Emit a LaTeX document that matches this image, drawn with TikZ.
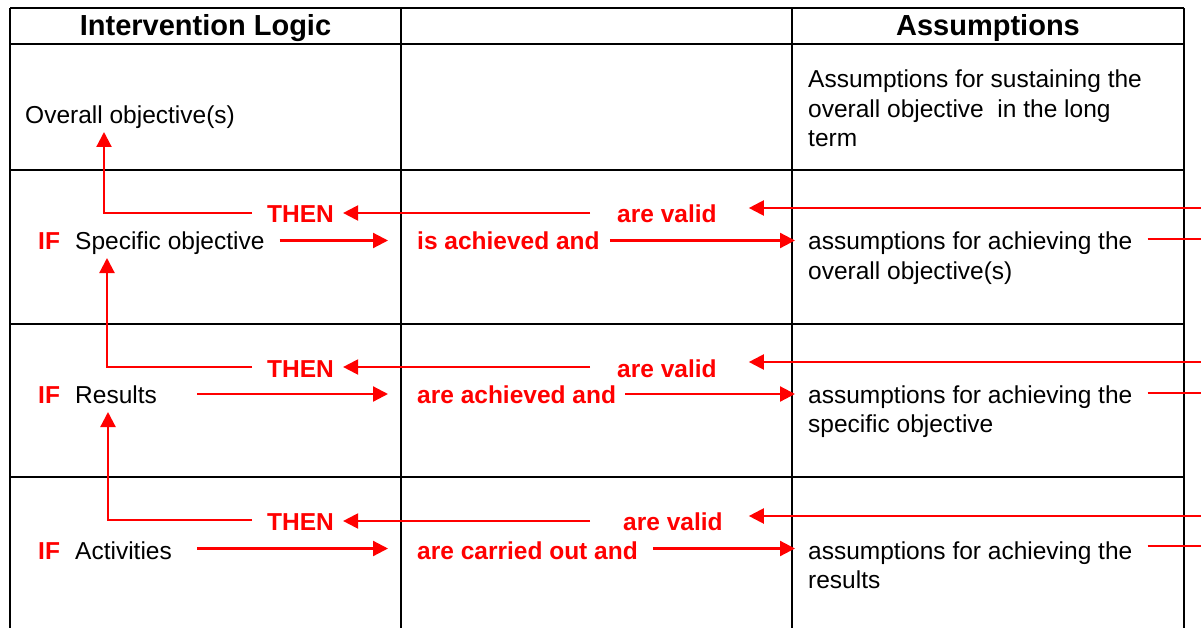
\documentclass[tikz,border=0pt]{standalone}
\usepackage{fontspec}
\setmainfont{Liberation Sans}
\usetikzlibrary{arrows.meta}
\begin{document}
\begin{tikzpicture}[x=1pt,y=-1pt,
  grid/.style={line width=1.8pt, black},
  flow/.style={red, line width=2.2pt},
  arr/.style={flow, -{Triangle[length=15pt,width=15pt]}},
  body/.style={inner sep=0pt, anchor=base west, font=\fontsize{24.5}{29.5}\selectfont},
  key/.style={body, text=red, font=\fontsize{24.5}{29.5}\selectfont\bfseries},
  head/.style={inner sep=0pt, anchor=base, font=\fontsize{29}{34}\selectfont\bfseries},
]
\useasboundingbox (0,0) rectangle (1201,628);
\fill[white] (0,0) rectangle (1201,628);

% table rules
\draw[grid] (10,8) -- (1184,8);
\foreach \yy in {44,170,324,477} \draw[grid] (10,\yy) -- (1184,\yy);
\foreach \xx in {10,401,792,1184} \draw[grid] (\xx,8) -- (\xx,628);

% column headings
\node[head] (hlogic) at (205.5,36) {Intervention Logic};
\node[head] (hassum) at (988,36) {Assumptions};

% right margin of the page, where the outer lines run off
\coordinate (rim) at (1201,0);

% top row
\node[body] (overall) at (25,124) {Overall objective(s)};
\node[body] (as0) at (808,88) {\begin{tabular}[t]{@{}l@{}}Assumptions for sustaining the\\ overall objective\ \ in the long\\ term\end{tabular}};

% row: specific objective
\node[key]  (then1)  at (267,223) {THEN};
\node[key]  (valid1) at (617,223) {are valid};
\node[key]  (if1)    at (38,250)  {IF};
\node[body] (spec)   at (75,250)  {Specific objective};
\node[key]  (ach1)   at (417,250) {is achieved and};
\node[body] (as1)    at (808,250) {\begin{tabular}[t]{@{}l@{}}assumptions for achieving the\\ overall objective(s)\end{tabular}};

% row: results
\node[key]  (then2)  at (267,377) {THEN};
\node[key]  (valid2) at (617,377) {are valid};
\node[key]  (if2)    at (38,403)  {IF};
\node[body] (res)    at (75,403)  {Results};
\node[key]  (ach2)   at (417,403) {are achieved and};
\node[body] (as2)    at (808,403) {\begin{tabular}[t]{@{}l@{}}assumptions for achieving the\\ specific objective\end{tabular}};

% row: activities
\node[key]  (then3)  at (267,530) {THEN};
\node[key]  (valid3) at (623,530) {are valid};
\node[key]  (if3)    at (38,559)  {IF};
\node[body] (act)    at (75,559)  {Activities};
\node[key]  (ach3)   at (417,559) {are carried out and};
\node[body] (as3)    at (808,559) {\begin{tabular}[t]{@{}l@{}}assumptions for achieving the\\ results\end{tabular}};

% corners of the upward "THEN" lines
\coordinate (k1) at (104,0);
\coordinate (k2) at (107,0);
\coordinate (k3) at (108,0);

% THEN -> level above
\draw[arr] ([xshift=-15pt,yshift=10pt]then1.base west) -| ([yshift=-8pt]k1 |- overall.base);
\draw[arr] ([xshift=-15pt,yshift=10pt]then2.base west) -| ([yshift=-8pt]k2 |- spec.base);
\draw[arr] ([xshift=-15pt,yshift=10pt]then3.base west) -| ([yshift=-9pt]k3 |- res.base);

% are valid -> THEN
\draw[arr] ([xshift=-27pt,yshift=10pt]valid1.base west) -- ([xshift=9pt,yshift=10pt]then1.base east);
\draw[arr] ([xshift=-27pt,yshift=10pt]valid2.base west) -- ([xshift=9pt,yshift=10pt]then2.base east);
\draw[arr] ([xshift=-33pt,yshift=9pt]valid3.base west) -- ([xshift=9pt,yshift=9pt]then3.base east);

% incoming lines from the right -> are valid
\path ([xshift=32pt,yshift=15pt]valid1.base east) coordinate (v1);
\path ([xshift=32pt,yshift=15pt]valid2.base east) coordinate (v2);
\path ([xshift=26pt,yshift=14pt]valid3.base east) coordinate (v3);
\draw[arr] (v1 -| rim) -- (v1);
\draw[arr] (v2 -| rim) -- (v2);
\draw[arr] (v3 -| rim) -- (v3);

% IF ... -> ... and
\draw[arr] ([xshift=15pt,yshift=9.5pt]spec.base east) -- ([xshift=-29pt,yshift=9.5pt]ach1.base west);
\draw[arr] ([xshift=40pt,yshift=9pt]res.base east)    -- ([xshift=-29pt,yshift=9pt]ach2.base west);
\draw[arr] ([xshift=25pt,yshift=10.5pt]act.base east) -- ([xshift=-29pt,yshift=10.5pt]ach3.base west);

% ... and -> assumptions
\draw[arr] ([xshift=10pt,yshift=9.5pt]ach1.base east) -- ([xshift=-13pt,yshift=9.5pt]as1.base west);
\draw[arr] ([xshift=9pt,yshift=9pt]ach2.base east)    -- ([xshift=-13pt,yshift=9pt]as2.base west);
\draw[arr] ([xshift=15pt,yshift=10.5pt]ach3.base east) -- ([xshift=-13pt,yshift=10.5pt]as3.base west);

% outgoing lines from the assumptions to the right
\path ([xshift=15pt,yshift=11pt]as1.base east) coordinate (o1);
\path ([xshift=15pt,yshift=10pt]as2.base east) coordinate (o2);
\path ([xshift=15pt,yshift=13pt]as3.base east) coordinate (o3);
\draw[flow] (o1) -- (o1 -| rim);
\draw[flow] (o2) -- (o2 -| rim);
\draw[flow] (o3) -- (o3 -| rim);
\end{tikzpicture}
\end{document}
